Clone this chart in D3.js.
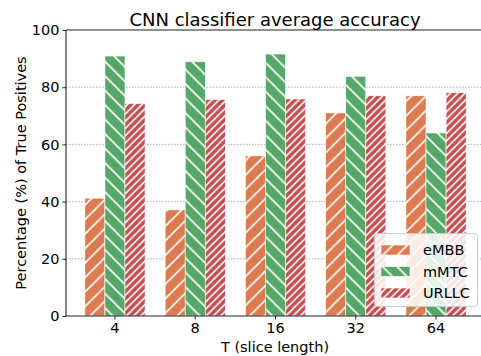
<!DOCTYPE html>
<html><head><meta charset="utf-8">
<script src="https://cdn.jsdelivr.net/npm/d3@7"></script>
<style>body{margin:0;background:#fff}svg{display:block;font-family:"DejaVu Sans",sans-serif}</style>
</head><body>
<script>
const categories = ["4","8","16","32","64"];
const seriesNames = ["eMBB","mMTC","URLLC"];
const eMBB = [41.2, 37.1, 56.0, 71.0, 77.0];
const mMTC = [90.9, 88.9, 91.6, 83.8, 64.0];
const URLLC = [74.3, 75.7, 75.9, 77.0, 78.1];
const yTicks = [0, 20, 40, 60, 80, 100];
const colors = ["#DD7A50", "#55A868", "#C44E52"];
const seriesValues = [eMBB, mMTC, URLLC];

const W = 481, H = 356;
const m = {left: 66, top: 30, right: -4, bottom: 40};
const svg = d3.select("body").append("svg").attr("width", W).attr("height", H);
const defs = svg.append("defs");

function hatch(id, color, spacing, dir) {
  const p = defs.append("pattern").attr("id", id).attr("patternUnits", "userSpaceOnUse")
    .attr("width", spacing).attr("height", spacing);
  p.append("rect").attr("width", spacing).attr("height", spacing).attr("fill", color);
  const s = spacing;
  const d = dir === "/" ?
    `M-1,1 l2,-2 M0,${s} l${s},${-s} M${s-1},${s+1} l2,-2` :
    `M-1,${s-1} l2,2 M0,0 l${s},${s} M${s-1},-1 l2,2`;
  p.append("path").attr("d", d).attr("stroke", "#fff").attr("stroke-width", 1.6);
}
hatch("h0", colors[0], 14.5, "/");
hatch("h1", colors[1], 14.5, "\\");
hatch("h2", colors[2], 7.25, "/");

const x0 = d3.scaleBand().domain(categories).range([m.left, W - m.right]).paddingInner(0.25).paddingOuter(0.235);
const x1 = d3.scaleBand().domain(seriesNames).range([0, x0.bandwidth()]);
const y = d3.scaleLinear().domain([0, 100]).range([H - m.bottom, m.top]);

// grid
svg.append("g").selectAll("line").data(yTicks.filter(t => t > 0 && t < 100)).join("line")
  .attr("x1", m.left).attr("x2", W).attr("y1", d => y(d)).attr("y2", d => y(d))
  .attr("stroke", "#999").attr("stroke-width", 0.8).attr("stroke-dasharray", "1.5,1.5");

// bars
seriesNames.forEach((s, si) => {
  svg.append("g").selectAll("rect").data(seriesValues[si]).join("rect")
    .attr("x", (d, i) => x0(categories[i]) + x1(s))
    .attr("width", x1.bandwidth())
    .attr("y", d => y(d))
    .attr("height", d => y(0) - y(d))
    .attr("fill", `url(#h${si})`)
    .attr("stroke", "#fff").attr("stroke-width", 0.6);
});

// axes
const yAxis = svg.append("g").attr("transform", `translate(${m.left},0)`)
  .call(d3.axisLeft(y).tickValues(yTicks).tickSize(3.5).tickPadding(3));
const xAxis = svg.append("g").attr("transform", `translate(0,${y(0)})`)
  .call(d3.axisBottom(x0).tickSize(3.5).tickPadding(3.5));
[yAxis, xAxis].forEach(a => {
  a.selectAll("text").attr("font-size", 14.5).attr("fill", "#000").attr("font-family", "DejaVu Sans");
  a.selectAll("line").attr("stroke", "#222").attr("stroke-width", 1);
  a.select(".domain").attr("stroke", "#222").attr("stroke-width", 1.1);
});
xAxis.select(".domain").attr("d", `M${m.left},0H${W}`);
yAxis.select(".domain").attr("d", `M0,${y(100)}V${y(0)}`);
// top spine
svg.append("line").attr("x1", m.left).attr("x2", W).attr("y1", y(100)).attr("y2", y(100))
  .attr("stroke", "#222").attr("stroke-width", 1.1);

// labels
svg.append("text").attr("x", 275).attr("y", 26).attr("text-anchor", "middle")
  .attr("font-size", 18).text("CNN classifier average accuracy");
svg.append("text").attr("x", 275).attr("y", 352).attr("text-anchor", "middle")
  .attr("font-size", 14.5).text("T (slice length)");
svg.append("text").attr("transform", `translate(26,${(y(0)+y(100))/2}) rotate(-90)`)
  .attr("text-anchor", "middle").attr("font-size", 14.5).text("Percentage (%) of True Positives");

// legend
const lg = svg.append("g");
lg.append("rect").attr("x", 374.5).attr("y", 233.5).attr("width", 103).attr("height", 73).attr("rx", 3)
  .attr("fill", "#fff").attr("fill-opacity", 0.85).attr("stroke", "#ccc").attr("stroke-width", 1);
seriesNames.forEach((s, i) => {
  const cy = 250 + i * 21.5;
  lg.append("rect").attr("x", 381).attr("y", cy - 5).attr("width", 29).attr("height", 10)
    .attr("fill", `url(#h${i})`).attr("stroke", "#fff").attr("stroke-width", 0.6);
  lg.append("text").attr("x", 423).attr("y", cy).attr("dy", "0.36em").attr("font-size", 14.5).text(s);
});
</script>
</body></html>
